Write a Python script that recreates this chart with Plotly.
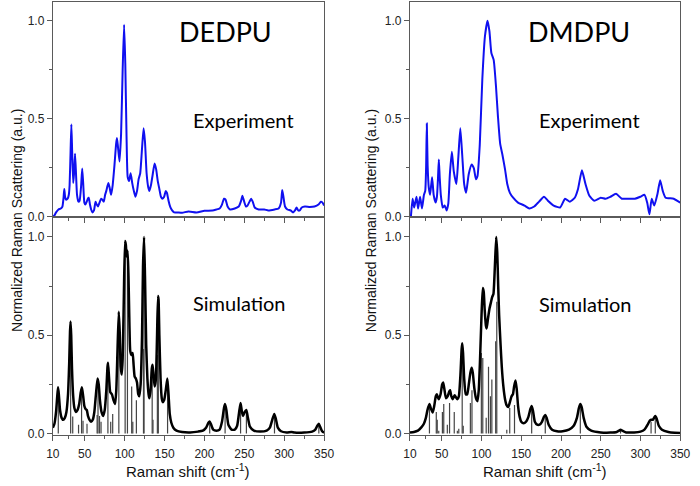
import plotly.graph_objects as go

# ---------------- data ----------------
dedpu_exp_x = [10.5, 12, 14, 17, 20, 22, 23.5, 24.3, 25.3, 26.5, 28.5, 30, 31, 32.2, 33.2, 34.2, 35.5, 36.6, 37.8, 39,
               40.3, 42, 43.5, 45.5, 46.8, 48, 49.5, 50.8, 52.5, 53.8, 55, 56.5, 58, 59.5, 61.5, 63.5, 65, 66.5, 68.5,
               70.5, 72, 73.8, 75.5, 77, 79.5, 81, 83, 85, 87, 89.3, 90.3, 91.5, 93.5, 95.5, 97.5, 99.3, 100.8, 102.3,
               103.8, 105.5, 107.5, 109.5, 111.5, 113.5, 115.5, 117.5, 119.5, 121.5, 123.7, 125.5, 127.5, 129.5, 131,
               133, 135, 137.5, 139.5, 141.5, 143.5, 145.5, 147.5, 149.5, 151.5, 153, 155, 157, 159.5, 162, 166, 172,
               180, 190, 200, 210, 215, 219, 222, 224.5, 226.5, 229, 232, 238, 243, 246, 247.5, 249.5, 252, 254, 256.5,
               258.5, 260.5, 263, 268, 275, 280, 288, 293, 296, 297.5, 299, 301, 304, 308, 311, 313.5, 315.5, 317.5,
               319.5, 322, 326, 332, 338, 343, 346, 348, 350]
dedpu_exp_y = [0.0, 0.005, 0.02, 0.035, 0.04, 0.05, 0.10, 0.14, 0.10, 0.085, 0.09, 0.11, 0.16, 0.33, 0.47, 0.33, 0.17,
               0.22, 0.32, 0.22, 0.11, 0.075, 0.08, 0.16, 0.245, 0.17, 0.07, 0.06, 0.075, 0.09, 0.095, 0.06, 0.035,
               0.02, 0.03, 0.075, 0.06, 0.05, 0.07, 0.09, 0.085, 0.075, 0.11, 0.13, 0.17, 0.15, 0.11, 0.16, 0.25, 0.37,
               0.40, 0.36, 0.28, 0.42, 0.75, 0.98, 0.78, 0.42, 0.20, 0.18, 0.22, 0.17, 0.13, 0.10, 0.13, 0.19, 0.22,
               0.33, 0.45, 0.38, 0.22, 0.15, 0.13, 0.16, 0.21, 0.27, 0.24, 0.18, 0.14, 0.10, 0.09, 0.10, 0.13, 0.12,
               0.08, 0.05, 0.03, 0.02, 0.02, 0.018, 0.025, 0.02, 0.028, 0.03, 0.035, 0.04, 0.06, 0.09, 0.085, 0.05,
               0.035, 0.04, 0.05, 0.08, 0.105, 0.08, 0.05, 0.055, 0.075, 0.09, 0.075, 0.045, 0.035, 0.035, 0.03, 0.035,
               0.04, 0.07, 0.135, 0.10, 0.05, 0.035, 0.03, 0.02, 0.03, 0.045, 0.03, 0.03, 0.045, 0.05, 0.048, 0.05,
               0.06, 0.075, 0.07, 0.055]

dmdpu_exp_x = [11.2, 13.3, 15.3, 18.2, 20.2, 22.7, 25.1, 27.6, 29.2, 30.3, 31.2, 32.2, 33.7, 35.3, 37.8, 39.8, 42.2,
               43.9, 45.3, 46.3, 47.4, 48.8, 51.2, 53.7, 56.1, 58.2, 60.2, 62.7, 65.1, 68.4, 70.8, 73.3, 75.7, 78.2,
               80.6, 83.9, 87.6, 90.4, 92.9, 94.9, 97.8, 101, 104.3, 107.6, 110, 112.4, 115.3, 118.2, 120.6, 123.5,
               126.3, 129.6, 132.4, 135.7, 139.8, 145.9, 154.1, 160.2, 166.3, 172.4, 178.6, 183.5, 190.8, 199, 205.1,
               211.2, 217.3, 221.4, 226.3, 230.8, 235.7, 241.8, 250, 256.1, 262.2, 269.2, 276.5, 284.7, 292.9, 299.8,
               305.1, 308.4, 311.2, 314.1, 317.3, 321.4, 324.7, 328, 331.6, 341.8, 350]
dmdpu_exp_y = [0.0, 0.09, 0.045, 0.10, 0.04, 0.10, 0.04, 0.11, 0.13, 0.25, 0.475, 0.26, 0.145, 0.11, 0.20, 0.11, 0.07,
               0.10, 0.20, 0.29, 0.20, 0.11, 0.045, 0.055, 0.03, 0.065, 0.215, 0.33, 0.23, 0.165, 0.30, 0.45, 0.315,
               0.165, 0.12, 0.215, 0.265, 0.245, 0.19, 0.205, 0.365, 0.70, 0.92, 1.0, 0.945, 0.835, 0.80, 0.665, 0.515,
               0.37, 0.315, 0.24, 0.165, 0.12, 0.095, 0.07, 0.055, 0.04, 0.05, 0.075, 0.10, 0.08, 0.055, 0.045, 0.09,
               0.075, 0.095, 0.14, 0.235, 0.165, 0.105, 0.08, 0.095, 0.09, 0.10, 0.115, 0.09, 0.09, 0.09, 0.10, 0.11,
               0.07, 0.01, 0.09, 0.055, 0.115, 0.185, 0.13, 0.095, 0.09, 0.07]

dedpu_sim_x = [10, 12, 14, 15.5, 16.5, 17.5, 19, 21, 23, 25, 27, 29, 30.5, 31.5, 32.2, 33, 34, 35.5, 37, 39, 41, 43,
               45, 46.5, 48, 49.5, 51, 52.5, 54, 56, 58, 60, 62, 64, 66, 67.5, 69, 71, 73, 75, 77, 78.5, 79.2, 80.5,
               82, 84, 86, 88, 89.5, 91, 92.6, 93.8, 95, 96.3, 97.5, 99, 100.5, 101.5, 102.5, 103.7, 104.8, 106, 107,
               108.5, 110, 111.2, 112.5, 114, 115.5, 117, 118.3, 120, 121.8, 123, 124.3, 125.5, 127, 128.5, 130, 131,
               132.5, 134, 135, 136.2, 137.5, 139, 140.5, 141.8, 142.5, 143.5, 145, 146.5, 147.8, 149.5, 151.5, 153.5,
               155, 156.5, 158.5, 161, 165, 172, 182, 192, 198, 202, 205, 206.5, 208, 211, 215, 219, 222, 224.5, 225.8,
               227.5, 230, 234, 238, 241, 243.5, 245.3, 247, 248.5, 250.5, 252.5, 254.5, 257, 262, 270, 278, 282, 285,
               287.5, 289.5, 292, 296, 303, 309, 313, 325, 335, 339, 341.5, 343.3, 345, 347.5, 350]
dedpu_sim_y = [0.03, 0.05, 0.11, 0.19, 0.235, 0.20, 0.12, 0.08, 0.07, 0.08, 0.11, 0.20, 0.36, 0.52, 0.57, 0.50, 0.33,
               0.19, 0.13, 0.11, 0.12, 0.15, 0.21, 0.235, 0.19, 0.14, 0.125, 0.12, 0.09, 0.07, 0.06, 0.07, 0.11, 0.20,
               0.28, 0.25, 0.17, 0.11, 0.09, 0.12, 0.22, 0.34, 0.36, 0.28, 0.21, 0.20, 0.17, 0.15, 0.22, 0.42, 0.62,
               0.52, 0.34, 0.30, 0.38, 0.70, 0.98, 0.96, 0.90, 0.93, 0.80, 0.55, 0.42, 0.40, 0.41, 0.35, 0.29, 0.28,
               0.26, 0.20, 0.19, 0.25, 0.50, 0.85, 1.0, 0.80, 0.45, 0.28, 0.20, 0.18, 0.22, 0.33, 0.35, 0.30, 0.24,
               0.27, 0.48, 0.70, 0.68, 0.50, 0.28, 0.18, 0.16, 0.17, 0.22, 0.28, 0.20, 0.10, 0.055, 0.03, 0.015, 0.008,
               0.006, 0.01, 0.015, 0.03, 0.055, 0.062, 0.05, 0.02, 0.015, 0.02, 0.06, 0.13, 0.15, 0.12, 0.045, 0.02,
               0.02, 0.04, 0.11, 0.155, 0.11, 0.09, 0.11, 0.12, 0.08, 0.035, 0.015, 0.01, 0.015, 0.03, 0.07, 0.10,
               0.075, 0.03, 0.012, 0.006, 0.008, 0.005, 0.005, 0.01, 0.02, 0.04, 0.05, 0.035, 0.012, 0.005]

dedpu_stick_x = [16.8, 32.3, 34.9, 42.2, 46.0, 47.8, 52.8, 65.5, 66.6, 68.5, 70.4, 79.0, 82.5, 85.0, 92.7, 100.6,
                 103.5, 108.8, 110.2, 114.7, 123.6, 124.3, 134.5, 135.5, 141.0, 142.2, 153.8, 206.6, 225.9, 245.3,
                 252.6, 287.8, 343.4]
dedpu_stick_h = [0.21, 0.55, 0.087, 0.045, 0.20, 0.065, 0.05, 0.095, 0.26, 0.09, 0.06, 0.35, 0.06, 0.10, 0.60, 0.96,
                 0.90, 0.24, 0.06, 0.17, 0.43, 0.99, 0.32, 0.07, 0.40, 0.69, 0.27, 0.05, 0.14, 0.14, 0.11, 0.09, 0.045]

dmdpu_sim_x = [10, 15, 20, 24, 27.5, 30, 32, 34.5, 36.5, 38.6, 40.5, 42.5, 43.8, 45, 46.3, 48.5, 50.5, 51.8, 53.5,
               55.3, 57.5, 59.5, 60.5, 62, 63.5, 65, 66.3, 67.8, 69.6, 71.5, 73.5, 75, 75.8, 76.8, 78.2, 80.2, 82, 84,
               86, 87.6, 89, 91, 93, 94.9, 96.5, 98, 100, 101.6, 102.8, 104, 105.5, 106.5, 108, 110, 112, 113.5, 115,
               116.8, 118.5, 119.8, 121, 122.2, 124, 125.5, 127.5, 129.6, 131.5, 133.7, 136, 137.8, 139.5, 141, 142.7,
               144.2, 146, 148, 150, 153, 156, 159, 161.5, 163.1, 164.8, 167.1, 170, 173, 176, 178.5, 180.2, 182,
               184.5, 188.8, 195, 202, 210, 216, 220, 222.5, 224.3, 226, 228.5, 232, 238, 250, 262, 270, 273, 275, 277,
               282, 292, 300, 305, 309, 311.5, 313.5, 315.5, 317, 318.6, 320.5, 323, 327, 335, 343, 350]
dmdpu_sim_y = [0.005, 0.008, 0.015, 0.03, 0.05, 0.08, 0.12, 0.15, 0.125, 0.107, 0.14, 0.19, 0.20, 0.185, 0.175, 0.20,
               0.25, 0.26, 0.22, 0.18, 0.19, 0.215, 0.22, 0.19, 0.175, 0.185, 0.195, 0.185, 0.175, 0.19, 0.30, 0.43,
               0.46, 0.41, 0.28, 0.20, 0.20, 0.25, 0.31, 0.335, 0.31, 0.23, 0.18, 0.165, 0.22, 0.36, 0.60, 0.74, 0.72,
               0.63, 0.55, 0.535, 0.58, 0.635, 0.67, 0.695, 0.71, 0.85, 1.0, 0.92, 0.75, 0.60, 0.45, 0.34, 0.24, 0.175,
               0.145, 0.135, 0.165, 0.19, 0.20, 0.24, 0.27, 0.23, 0.14, 0.085, 0.06, 0.052, 0.06, 0.085, 0.125, 0.14,
               0.115, 0.06, 0.045, 0.045, 0.06, 0.085, 0.095, 0.08, 0.045, 0.02, 0.012, 0.012, 0.02, 0.04, 0.08, 0.13,
               0.15, 0.135, 0.08, 0.035, 0.015, 0.006, 0.005, 0.008, 0.015, 0.02, 0.015, 0.006, 0.006, 0.01, 0.02,
               0.045, 0.065, 0.07, 0.07, 0.08, 0.09, 0.075, 0.04, 0.02, 0.008, 0.004, 0.003]

dmdpu_stick_x = [34.5, 43.1, 44.3, 46.2, 50.8, 52.5, 57.0, 59.8, 65.7, 69.6, 71.4, 75.7, 77.0, 86.0, 88.0, 99.8, 101.6,
                 105.9, 108.8, 111.2, 113.0, 117.8, 119.2, 131.8, 135.5, 141.5, 163.1, 180.2, 224.3, 274.9, 313.3,
                 318.6]
dmdpu_stick_h = [0.15, 0.11, 0.07, 0.015, 0.11, 0.15, 0.045, 0.155, 0.11, 0.015, 0.025, 0.46, 0.04, 0.155, 0.22, 0.41,
                 0.385, 0.08, 0.34, 0.19, 0.275, 0.47, 0.67, 0.02, 0.13, 0.145, 0.13, 0.08, 0.14, 0.015, 0.06, 0.08]

x_tick_vals = [10, 50, 100, 150, 200, 250, 300, 350]
x_tick_text = ["10", "50", "100", "150", "200", "250", "300", "350"]
x_minor_vals = [30, 75, 125, 175, 225, 275, 325]
y_tick_vals = [0.0, 0.5, 1.0]
y_tick_text = ["0.0", "0.5", "1.0"]
y_minor_vals = [0.25, 0.75]

compound_names = ["DEDPU", "DMDPU"]
panel_labels = ["Experiment", "Simulation"]
y_title = "Normalized Raman Scattering (a.u.)"
x_title = "Raman shift (cm<sup>-1</sup>)"

# ---------------- figure ----------------
def sticks(xs, hs):
    sx, sy = [], []
    for xv, hv in zip(xs, hs):
        sx += [xv, xv, None]
        sy += [0, hv, None]
    return sx, sy

fig = go.Figure()
BLUE = "#1010f0"

fig.add_trace(go.Scatter(x=dedpu_exp_x, y=dedpu_exp_y, mode="lines", line=dict(color=BLUE, width=2, shape="spline", smoothing=0.5),
                         xaxis="x", yaxis="y", showlegend=False))
sx, sy = sticks(dedpu_stick_x, dedpu_stick_h)
fig.add_trace(go.Scatter(x=sx, y=sy, mode="lines", line=dict(color="#444", width=1.2), xaxis="x2", yaxis="y2", showlegend=False))
fig.add_trace(go.Scatter(x=dedpu_sim_x, y=dedpu_sim_y, mode="lines", line=dict(color="black", width=2.5, shape="spline", smoothing=0.5),
                         xaxis="x2", yaxis="y2", showlegend=False))

fig.add_trace(go.Scatter(x=dmdpu_exp_x, y=dmdpu_exp_y, mode="lines", line=dict(color=BLUE, width=2, shape="spline", smoothing=0.5),
                         xaxis="x3", yaxis="y3", showlegend=False))
sx, sy = sticks(dmdpu_stick_x, dmdpu_stick_h)
fig.add_trace(go.Scatter(x=sx, y=sy, mode="lines", line=dict(color="#444", width=1.2), xaxis="x4", yaxis="y4", showlegend=False))
fig.add_trace(go.Scatter(x=dmdpu_sim_x, y=dmdpu_sim_y, mode="lines", line=dict(color="black", width=2.5, shape="spline", smoothing=0.5),
                         xaxis="x4", yaxis="y4", showlegend=False))

W, H = 700, 486
left_dom = [47 / W, 325 / W]
right_dom = [413 / W, 690 / W]
top_dom = [1 - 220 / H, 1 - 2 / H]
bot_dom = [1 - 440 / H, 1 - 220 / H]

AX = "#5a5a5a"
tickfont = dict(family="Liberation Sans, Arial", size=12, color="#222")

def xax(dom, anchor, labels):
    return dict(domain=dom, anchor=anchor, range=[10, 350], showline=True, linecolor=AX, linewidth=1.2, mirror=True,
                showgrid=False, zeroline=False, ticks="outside", ticklen=5, tickcolor=AX, tickwidth=1,
                ticklabelstandoff=3,
                tickmode="array", tickvals=x_tick_vals, ticktext=x_tick_text, showticklabels=labels, tickfont=tickfont,
                minor=dict(tickmode="array", tickvals=x_minor_vals, ticks="outside", ticklen=3, tickcolor=AX, showgrid=False))

def yax(dom, anchor, rng):
    return dict(domain=dom, anchor=anchor, range=rng, showline=True, linecolor=AX, linewidth=1.2, mirror=True,
                showgrid=False, zeroline=False, ticks="outside", ticklen=5, tickcolor=AX, tickwidth=1,
                tickmode="array", tickvals=y_tick_vals, ticktext=y_tick_text, tickfont=tickfont,
                minor=dict(tickmode="array", tickvals=y_minor_vals, ticks="outside", ticklen=3, tickcolor=AX, showgrid=False))

fig.update_layout(
    width=W, height=H, margin=dict(l=0, r=0, t=0, b=0),
    paper_bgcolor="white", plot_bgcolor="white",
    xaxis=xax(left_dom, "y", False),
    xaxis2=xax(left_dom, "y2", True),
    xaxis3=xax(right_dom, "y3", False),
    xaxis4=xax(right_dom, "y4", True),
    yaxis=yax(top_dom, "x", [-0.005, 1.096]),
    yaxis2=yax(bot_dom, "x2", [-0.005, 1.1]),
    yaxis3=yax(top_dom, "x3", [-0.005, 1.096]),
    yaxis4=yax(bot_dom, "x4", [-0.005, 1.1]),
)

label_font = "Lato, Open Sans, sans-serif"
def ann(text, xpx, ypx, size, family=label_font, angle=0, color="black"):
    fig.add_annotation(text=text, x=xpx / W, y=1 - ypx / H, xref="paper", yref="paper", showarrow=False,
                       xanchor="center", yanchor="middle", textangle=angle,
                       font=dict(family=family, size=size, color=color))

ann(compound_names[0], 224, 32, 27)
ann(compound_names[1], 586, 32, 27)
ann(panel_labels[0], 242, 121, 20)
ann(panel_labels[0], 597, 121, 20)
ann(panel_labels[1], 238, 307, 20)
ann(panel_labels[1], 593, 308, 20)
ann(y_title, 11, 223, 14, family="Liberation Sans, Arial", angle=-90, color="#111")
ann(y_title, 373, 223, 14, family="Liberation Sans, Arial", angle=-90, color="#111")
ann(x_title, 186, 476, 15, family="Liberation Sans, Arial", color="#111")
ann(x_title, 551, 476, 15, family="Liberation Sans, Arial", color="#111")

fig.write_html("out.html")
